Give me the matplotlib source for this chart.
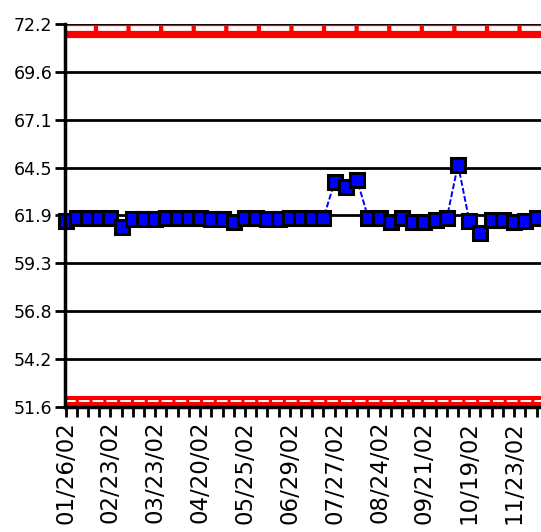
import matplotlib
matplotlib.use('Agg')
import matplotlib.pyplot as plt
import numpy as np

# weekly readings (one per category)
values = [61.61, 61.77, 61.74, 61.74, 61.77, 61.26, 61.73, 61.72, 61.72, 61.79,
          61.79, 61.79, 61.79, 61.72, 61.72, 61.55, 61.79, 61.74, 61.72, 61.72,
          61.77, 61.75, 61.75, 61.76, 63.72, 63.42, 63.83, 61.74, 61.77, 61.54,
          61.79, 61.57, 61.57, 61.66, 61.76, 64.64, 61.63, 60.97, 61.65, 61.66,
          61.57, 61.62, 61.79]
date_labels = ['01/26/02', '02/23/02', '03/23/02', '04/20/02', '05/25/02', '06/29/02',
               '07/27/02', '08/24/02', '09/21/02', '10/19/02', '11/23/02']
label_every = 4
upper_limit = 71.80
lower_limit = 51.93
y_ticks = [51.6, 54.2, 56.8, 59.3, 61.9, 64.5, 67.1, 69.6, 72.2]

fig = plt.figure(figsize=(5.41, 5.32), dpi=100)
ax = fig.add_axes([65/541, 125/532, 1 - 65/541, (407-24)/532])

x = np.arange(len(values))

# control limit bands
ax.axhline(upper_limit, color='#ff0000', lw=9.5, zorder=2)
ax.axhline(71.97, color='white', lw=3.4, dashes=(6, 0.9), zorder=2.1)
ax.axhline(lower_limit, color='#ff0000', lw=8.0, zorder=2)
ax.axhline(51.93, color='white', lw=1.4, dashes=(5.5, 1.6), zorder=2.1)

for yv in np.linspace(51.6, 72.2, 9):
    ax.axhline(yv, color='black', lw=2.0, zorder=1.5)

ax.plot(x, values, color='#0000ff', lw=1.4, linestyle=(0, (3, 1.2)),
        marker='s', markersize=10, markerfacecolor='#0000ff',
        markeredgecolor='black', markeredgewidth=2.2, zorder=3, clip_on=False)

ax.set_ylim(51.6, 72.2)
ax.set_xlim(-0.05, 42.4)
ax.set_yticks(np.linspace(51.6, 72.2, 9))
ax.set_yticklabels(['%.1f' % v for v in y_ticks], fontsize=12.5)

ticks = list(x)
labels = [''] * len(values)
for i, lab in enumerate(date_labels):
    labels[i * label_every] = lab
ax.set_xticks(ticks)
ax.set_xticklabels(labels, rotation=90, fontsize=16.5)

ax.tick_params(axis='y', length=7, width=2, direction='out', pad=2)
ax.tick_params(axis='x', length=7, width=2, direction='out', pad=3)

for s in ['top', 'right']:
    ax.spines[s].set_visible(False)
ax.spines['left'].set_linewidth(2.5)
ax.spines['bottom'].set_linewidth(2.5)
ax.spines['left'].set_zorder(4)

plt.savefig('out.png', dpi=100)
